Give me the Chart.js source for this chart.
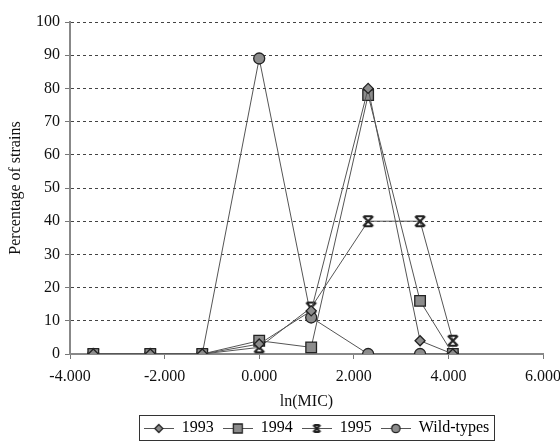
<!DOCTYPE html>
<html>
<head>
<meta charset="utf-8">
<script src="https://cdn.jsdelivr.net/npm/chart.js"></script>
<style>
  html, body { margin: 0; padding: 0; background: #fff; }
  #wrap { width: 560px; height: 446px; }
</style>
</head>
<body>
<div id="wrap"><canvas id="micChart" width="560" height="446"></canvas></div>
<script>
// ln(MIC) positions of the dilution steps
const lnMic = [-3.507, -2.303, -1.204, 0.0, 1.099, 2.303, 3.401, 4.094];

// Percentage of strains per year
const pct1993 = [0, 0, 0, 3, 13, 80, 4, 0];
const pct1994 = [0, 0, 0, 4, 2, 78, 16, 0];
const pct1995 = [0, 0, 0, 2, 14, 40, 40, 4];
const pctWild = [0, 0, 0, 89, 11, 0, 0, 0];

const seriesLabels = ['1993', '1994', '1995', 'Wild-types'];
const xTicks = [-4, -2, 0, 2, 4, 6];
const yTicks = [0, 10, 20, 30, 40, 50, 60, 70, 80, 90, 100];

const FONT = "'Liberation Serif', 'DejaVu Serif', serif";
const markFill = '#8c8c8c';
const markEdge = '#222';
const lineCol = '#555';
const legendShift = 42;

// hourglass-like asterisk marker used for 1995
function starMarker(s) {
    const c = document.createElement('canvas');
    c.width = s; c.height = s;
    const g = c.getContext('2d');
    const a = 2, b = s - 2;
    g.strokeStyle = markEdge;
    g.lineWidth = 2.2;
    g.beginPath();
    g.moveTo(a, a); g.lineTo(b, b);
    g.moveTo(b, a); g.lineTo(a, b);
    g.moveTo(a + 1, a); g.lineTo(b - 1, a);
    g.moveTo(a + 1, b); g.lineTo(b - 1, b);
    g.stroke();
    return c;
}
const starImg = starMarker(14);
const starSmall = starMarker(11);

// legend sample: short line with the marker in the middle
function legendSample(kind) {
    const w = 30, m = 15;
    const c = document.createElement('canvas');
    c.width = w; c.height = 14;
    const g = c.getContext('2d');
    g.strokeStyle = lineCol;
    g.lineWidth = 1;
    g.beginPath(); g.moveTo(0, 7.5); g.lineTo(w, 7.5); g.stroke();
    g.fillStyle = markFill;
    g.strokeStyle = markEdge;
    g.lineWidth = 1.3;
    g.beginPath();
    if (kind === 'rectRot') {
        g.moveTo(m, 3.5); g.lineTo(m + 4, 7.5); g.lineTo(m, 11.5); g.lineTo(m - 4, 7.5); g.closePath();
    } else if (kind === 'rect') {
        g.rect(m - 4.5, 3, 9, 9);
    } else if (kind === 'circle') {
        g.arc(m, 7.5, 4.2, 0, Math.PI * 2);
    }
    if (kind === 'star') {
        g.drawImage(starSmall, m - 5.5, 2);
    } else {
        g.fill(); g.stroke();
    }
    return c;
}

const styles = ['rectRot', 'rect', 'star', 'circle'];
const radii = [5, 7.5, 7, 5.5];
const values = [pct1993, pct1994, pct1995, pctWild];

const datasets = values.map((vals, i) => ({
    label: seriesLabels[i],
    data: lnMic.map((x, k) => ({ x: x, y: vals[k] })),
    showLine: true,
    borderColor: lineCol,
    borderWidth: 1,
    backgroundColor: markFill,
    pointBorderColor: markEdge,
    pointBorderWidth: 1.3,
    pointStyle: styles[i] === 'star' ? starImg : styles[i],
    pointRadius: radii[i],
    tension: 0
}));

// nudge the legend to the right, like the original
const legendNudge = {
    id: 'legendNudge',
    afterLayout(chart) {
        const lg = chart.legend;
        lg.left += legendShift;
        lg.right += legendShift;
    }
};

// box around the legend items
const legendBox = {
    id: 'legendBox',
    afterDraw(chart) {
        const boxes = chart.legend.legendHitBoxes;
        if (!boxes || !boxes.length) return;
        let l = Infinity, r = -Infinity, t = Infinity, b = -Infinity;
        boxes.forEach(h => {
            l = Math.min(l, h.left); r = Math.max(r, h.left + h.width);
            t = Math.min(t, h.top); b = Math.max(b, h.top + h.height);
        });
        const ctx = chart.ctx;
        ctx.save();
        ctx.strokeStyle = '#333';
        ctx.lineWidth = 1;
        ctx.strokeRect(Math.round(l - 5) + 0.5, Math.round(t - 5) + 0.5,
            Math.round(r - l + 10), Math.round(b - t + 9));
        ctx.restore();
    }
};

new Chart(document.getElementById('micChart').getContext('2d'), {
    type: 'scatter',
    data: { datasets: datasets },
    plugins: [legendNudge, legendBox],
    options: {
        responsive: false,
        animation: false,
        layout: { padding: { top: 22, right: 17, bottom: 0, left: 6 } },
        plugins: {
            tooltip: { enabled: false },
            legend: {
                position: 'bottom',
                labels: {
                    usePointStyle: true,
                    pointStyleWidth: 30,
                    padding: 9,
                    color: '#111',
                    font: { family: FONT, size: 16 },
                    generateLabels: () => seriesLabels.map((s, i) => ({
                        text: s,
                        pointStyle: legendSample(styles[i]),
                        datasetIndex: i,
                        lineWidth: 0,
                        hidden: false
                    }))
                }
            }
        },
        scales: {
            x: {
                type: 'linear',
                min: -4,
                max: 6,
                afterBuildTicks: axis => { axis.ticks = xTicks.map(v => ({ value: v })); },
                afterFit: axis => { axis.height = 57; axis.paddingRight = 0; },
                ticks: {
                    color: '#111',
                    font: { family: FONT, size: 16 },
                    padding: 8,
                    maxRotation: 0,
                    callback: v => v.toFixed(3)
                },
                grid: { drawOnChartArea: false, drawTicks: true, tickLength: 5, color: '#777' },
                border: { color: '#888', width: 2 },
                title: {
                    display: true,
                    text: 'ln(MIC)',
                    color: '#111',
                    font: { family: FONT, size: 16 },
                    padding: { top: 0, bottom: 0 }
                }
            },
            y: {
                min: 0,
                max: 100,
                afterBuildTicks: axis => { axis.ticks = yTicks.map(v => ({ value: v })); },
                afterFit: axis => { axis.width = 64; },
                ticks: {
                    color: '#111',
                    font: { family: FONT, size: 16 },
                    padding: 5
                },
                grid: {
                    color: '#444',
                    lineWidth: 1,
                    tickLength: 5,
                    tickColor: '#777',
                    tickBorderDash: []
                },
                border: { color: '#888', width: 2, dash: [3, 3] },
                title: {
                    display: true,
                    text: 'Percentage of strains',
                    color: '#111',
                    font: { family: FONT, size: 16 },
                    padding: { top: 0, bottom: 2 }
                }
            }
        }
    }
});
</script>
</body>
</html>
